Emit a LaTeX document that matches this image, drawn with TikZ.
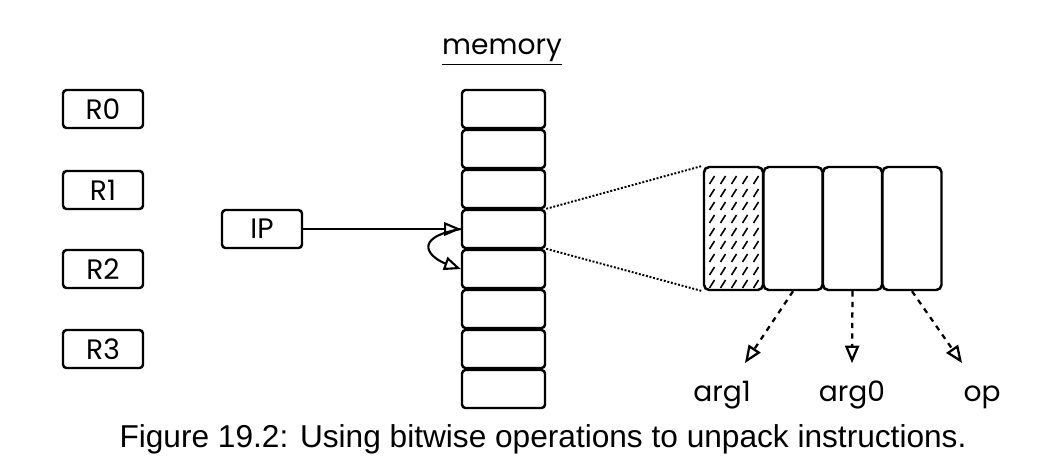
\documentclass[tikz,border=0pt]{standalone}
\usepackage{fontspec}
\setmainfont{Liberation Sans}
\newfontfamily\sketchfont{Poppins}
\usepackage{tikz}
\usetikzlibrary{arrows}
\usetikzlibrary{positioning}

\begin{document}
\begin{tikzpicture}[x=0.2mm,y=-0.2mm,->,>=open triangle 45,thick,
    reg node/.style={rectangle,draw,rounded corners=2pt,line width=1.4pt,minimum width=16mm,minimum height=7.6mm,inner sep=0pt,font=\sketchfont\fontsize{16}{18}\selectfont},
    cell node/.style={rectangle,draw,rounded corners=2pt,line width=1.4pt,minimum width=16.6mm,minimum height=7.6mm,inner sep=0pt},
    part node/.style={rectangle,draw,rounded corners=3pt,line width=1.4pt,minimum width=11.8mm,minimum height=24.6mm,inner sep=0pt},
    label node/.style={font=\sketchfont\fontsize{16}{18}\selectfont,inner sep=1pt}]

   \useasboundingbox (0,0) rectangle (1038,474);

   % registers
   \node[reg node] (r0) at (103,109) {R0};
   \node[reg node] (r1) at (103,190) {R1};
   \node[reg node] (r2) at (103,269) {R2};
   \node[reg node] (r3) at (103,349) {R3};

   \node[reg node] (ip) at (262,229) {IP};

   % memory
   \node[label node] (mem) at (502,52) {\underline{memory}};
   \foreach \i in {1,...,8}
     \node[cell node] (m\i) at (503.5,{69+40*\i}) {};

   % instruction
   \node[part node] (b1) at (733.5,228.5) {};
   \node[part node] (b2) at (793,228.5) {};
   \node[part node] (b3) at (852.5,228.5) {};
   \node[part node] (b4) at (912,228.5) {};
   \foreach \x in {712,723,734,745,756}
     \foreach \y in {180,193,...,284}
       \draw[-,line width=0.9pt] (\x-2.5,\y+4) -- (\x+2.5,\y-4);

   \node[label node,anchor=base] (arg1) at (722,401) {arg1};
   \node[label node,anchor=base] (arg0) at (852,401) {arg0};
   \node[label node,anchor=base] (op) at (982,401) {op};
   \coordinate (t1) at (745,363);
   \coordinate (t2) at (852,363);
   \coordinate (t3) at (962,363);

   \path[-,densely dotted,line width=1.1pt] (m4.north east) edge (b1.north west);
   \path[-,densely dotted,line width=1.1pt] (m5.north east) edge (b1.south west);

   \draw[line width=1.2pt] (ip.east) -- (m4.west);
   \draw[line width=1.2pt] (m4.west) .. controls (410,238) and (430,258) .. (m5.west);

   \draw[dashed,line width=1.3pt] (b2.south) -- (t1);
   \draw[dashed,line width=1.3pt] (b3.south) -- (t2);
   \draw[dashed,line width=1.3pt] (b4.south) -- (t3);

   \node[font=\fontsize{18}{20}\selectfont] (cap) at (543,439) {Figure 19.2: Using bitwise operations to unpack instructions.};
  \end{tikzpicture}
\end{document}
